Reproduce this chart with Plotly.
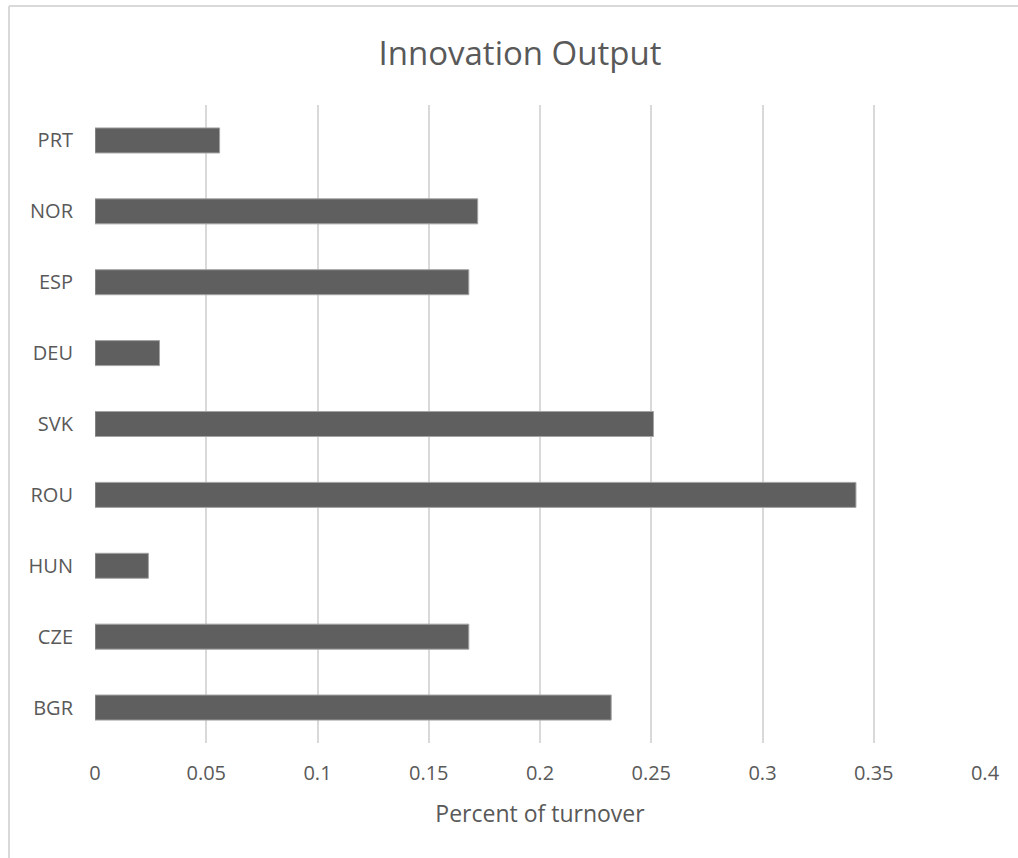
import plotly.graph_objects as go

categories = ["BGR", "CZE", "HUN", "ROU", "SVK", "DEU", "ESP", "NOR", "PRT"]
values = [0.232, 0.168, 0.024, 0.342, 0.251, 0.029, 0.168, 0.172, 0.056]
x_ticks = [0, 0.05, 0.1, 0.15, 0.2, 0.25, 0.3, 0.35, 0.4]
x_tick_labels = ["0", "0.05", "0.1", "0.15", "0.2", "0.25", "0.3", "0.35", "0.4"]

TEXT = "#595959"
FONT = "Open Sans"

fig = go.Figure(
    go.Bar(
        x=values,
        y=categories,
        orientation="h",
        marker=dict(color="#5f5f5f", line=dict(color="#a3a3a3", width=1)),
        hoverinfo="x+y",
    )
)

frame_left = (9 - 95) / 890
frame_top = (743 - 6) / 638

fig.update_layout(
    width=1018,
    height=858,
    margin=dict(l=95, r=33, t=105, b=115, autoexpand=False),
    paper_bgcolor="white",
    plot_bgcolor="white",
    showlegend=False,
    bargap=0.647,
    font=dict(family=FONT, color=TEXT, size=20),
    title=dict(
        text="Innovation Output",
        font=dict(family=FONT, size=33, color=TEXT),
        x=(520 - 95) / 890,
        xref="paper",
        xanchor="center",
        y=1 - 53 / 858,
        yref="container",
        yanchor="middle",
    ),
    xaxis=dict(
        range=[0, 0.4],
        tickvals=x_ticks,
        ticktext=x_tick_labels,
        showgrid=True,
        gridcolor="#d9d9d9",
        gridwidth=2,
        zeroline=False,
        showline=False,
        ticks="",
        ticklabelstandoff=16,
        tickfont=dict(family=FONT, size=20, color=TEXT),
        title=dict(
            text="Percent of turnover",
            font=dict(family=FONT, size=23, color=TEXT),
            standoff=20,
        ),
        automargin=False,
        fixedrange=True,
    ),
    yaxis=dict(
        categoryorder="array",
        categoryarray=categories,
        showgrid=False,
        zeroline=False,
        showline=False,
        ticks="",
        ticklabelstandoff=21,
        tickfont=dict(family=FONT, size=20, color=TEXT),
        automargin=False,
        fixedrange=True,
    ),
    shapes=[
        dict(
            type="line", xref="paper", yref="paper",
            x0=frame_left, x1=1.2, y0=frame_top, y1=frame_top,
            line=dict(color="#d9d9d9", width=2), layer="below",
        ),
        dict(
            type="line", xref="paper", yref="paper",
            x0=frame_left, x1=frame_left, y0=-0.4, y1=frame_top,
            line=dict(color="#d9d9d9", width=2), layer="below",
        ),
    ],
)

fig.write_html("out.html")
